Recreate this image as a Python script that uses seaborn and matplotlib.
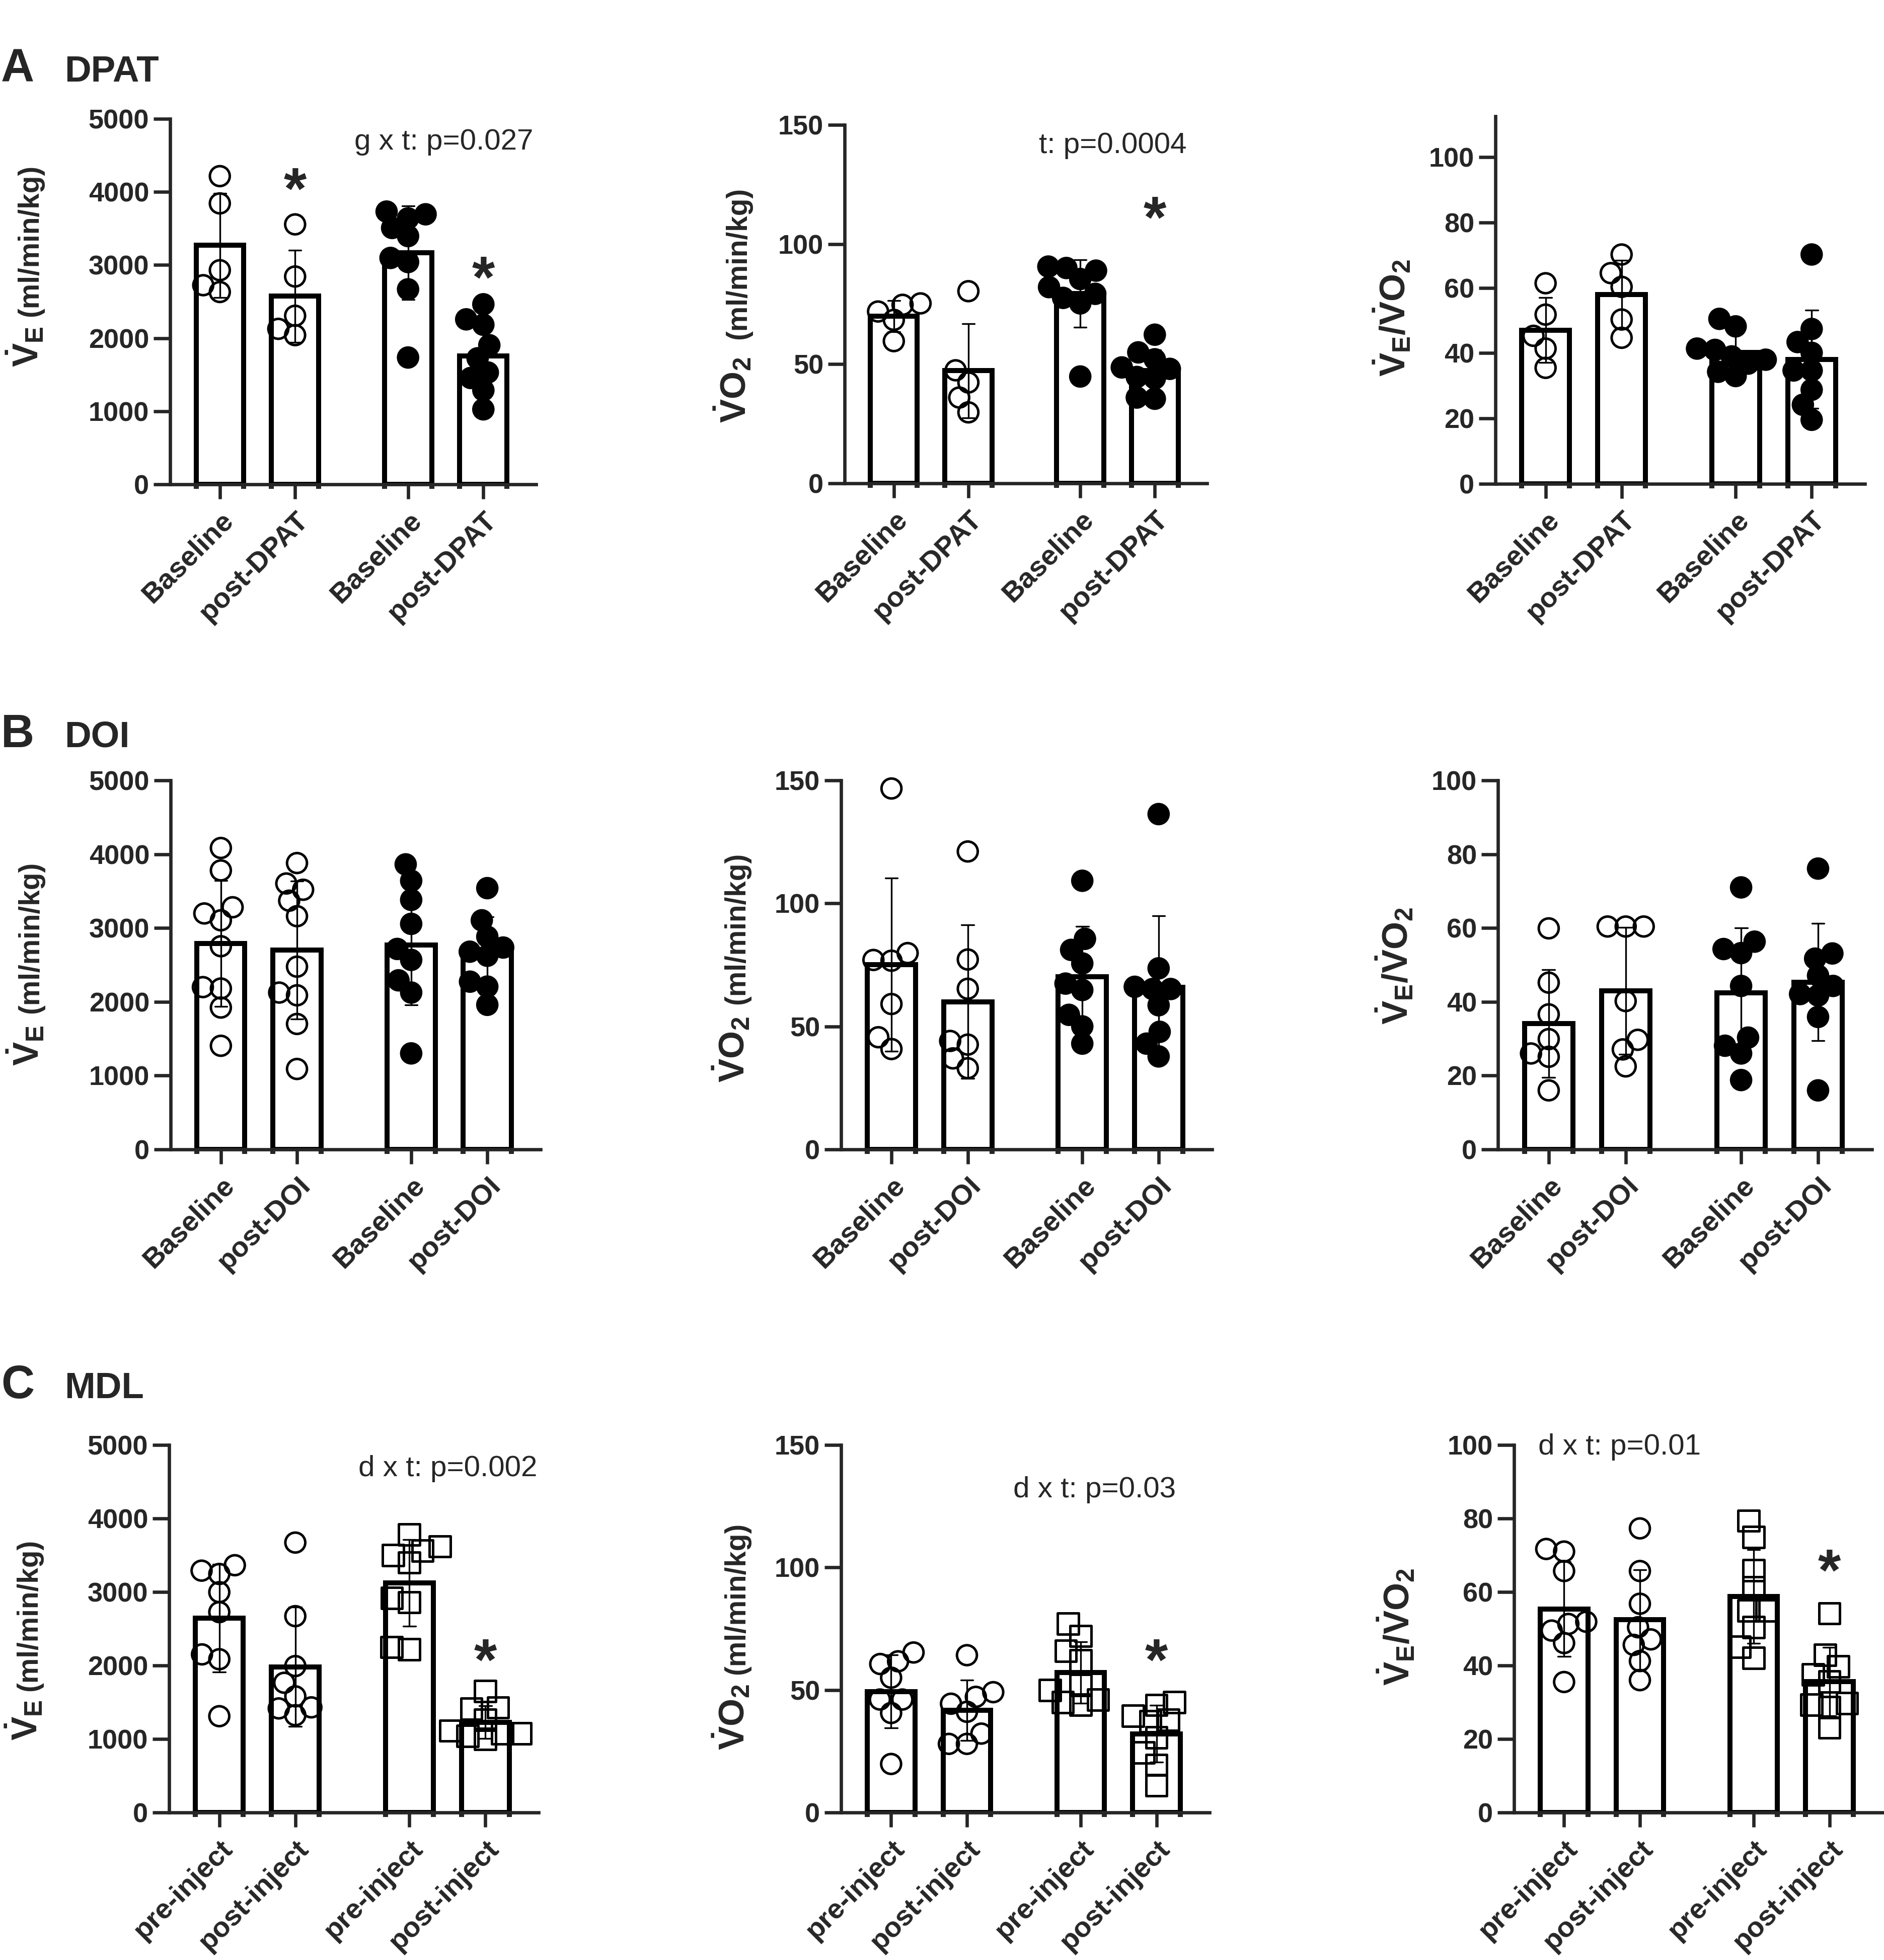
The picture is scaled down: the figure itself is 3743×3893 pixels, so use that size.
"""Bar + scatter panels (mean +/- SD) for ventilation, VO2 and VE/VO2 after DPAT, DOI and MDL."""
import matplotlib
matplotlib.use("Agg")
import matplotlib.pyplot as plt
import pandas as pd
import seaborn as sns


# values, one list per bar
# A: DPAT
a_ve_g1_pre = [4216, 3843, 2929, 2631, 2724]
a_ve_g1_post = [3556, 2843, 2306, 2041, 2127]
a_ve_g2_pre = [3638, 3694, 3731, 3507, 3396, 3097, 3041, 2668, 1735]
a_ve_g2_post = [2463, 2257, 2183, 1903, 1724, 1530, 1455, 1287, 1026]

a_vo2_g1_pre = [74.7, 75.3, 71.9, 68.4, 59.5]
a_vo2_g1_post = [80.4, 47.3, 42.2, 35.9, 29.7]
a_vo2_g2_pre = [90.1, 89.0, 90.7, 85.5, 82.1, 79.3, 77.6, 75.3, 44.7]
a_vo2_g2_post = [62.2, 54.8, 51.9, 48.5, 47.9, 44.5, 43.9, 35.9, 35.4]

a_ratio_g1_pre = [61.4, 51.8, 45.3, 41.4, 35.5]
a_ratio_g1_post = [70.2, 64.5, 60.3, 50.3, 44.7]
a_ratio_g2_pre = [50.5, 48.2, 41.4, 41.0, 39.0, 38.0, 36.8, 34.3, 33.0]
a_ratio_g2_post = [70.2, 47.4, 43.4, 40.1, 34.7, 34.7, 28.8, 24.2, 19.6]

# B: DOI
b_ve_g1_pre = [4084, 3780, 3281, 3197, 3104, 2753, 2199, 2180, 1922, 1404]
b_ve_g1_post = [3880, 3603, 3518, 3370, 3160, 2476, 2125, 2088, 1700, 1090]
b_ve_g2_pre = [3862, 3640, 3381, 3056, 2716, 2568, 2291, 2125, 1301]
b_ve_g2_post = [3540, 3104, 2882, 2735, 2679, 2624, 2273, 2206, 1959]

b_vo2_g1_pre = [146.7, 79.8, 77.0, 76.7, 59.1, 45.6, 40.8]
b_vo2_g1_post = [121.1, 77.2, 65.3, 44.1, 42.6, 37.0, 33.0]
b_vo2_g2_pre = [109.2, 85.6, 81.1, 75.6, 67.4, 64.8, 54.7, 50.0, 43.0]
b_vo2_g2_post = [136.3, 73.6, 66.1, 65.2, 65.2, 58.6, 47.8, 43.0, 37.8]

b_ratio_g1_pre = [59.9, 45.2, 36.6, 29.9, 26.0, 25.1, 16.0]
b_ratio_g1_post = [60.4, 60.4, 60.4, 40.2, 29.7, 27.1, 22.5]
b_ratio_g2_pre = [71.0, 56.3, 54.3, 53.2, 44.3, 30.3, 28.1, 26.0, 18.8]
b_ratio_g2_post = [76.1, 53.1, 51.7, 47.1, 44.3, 42.1, 41.7, 35.9, 16.0]

# C: MDL
c_ve_g1_pre = [3364, 3290, 3245, 2997, 2726, 2151, 2085, 1310]
c_ve_g1_post = [3672, 2671, 1992, 1765, 1580, 1430, 1416, 1323]
c_ve_g2_pre = [3783, 3620, 3560, 3500, 3400, 2920, 2860, 2250, 2220]
c_ve_g2_post = [1650, 1428, 1410, 1261, 1113, 1076, 1076, 1039, 1001]

c_vo2_g1_pre = [65.3, 61.7, 60.6, 55.0, 46.1, 46.1, 40.6, 19.8]
c_vo2_g1_post = [64.2, 49.1, 47.2, 44.4, 41.1, 32.2, 28.0, 28.0]
c_vo2_g2_pre = [77.0, 72.0, 66.0, 62.0, 52.0, 50.0, 46.0, 45.0, 44.0]
c_vo2_g2_post = [45.0, 43.9, 39.4, 37.8, 37.2, 30.6, 24.4, 19.4, 11.1]

c_ratio_g1_pre = [71.7, 71.0, 65.7, 51.9, 51.3, 49.5, 46.1, 35.5]
c_ratio_g1_post = [77.3, 65.7, 56.8, 50.4, 47.1, 45.6, 41.2, 36.0]
c_ratio_g2_pre = [79.4, 74.9, 65.9, 61.2, 54.9, 54.9, 50.4, 45.1, 42.1]
c_ratio_g2_post = [54.2, 42.9, 39.7, 37.5, 35.6, 29.7, 29.3, 28.6, 23.1]

# tick labels
dpat_labels = ["Baseline", "post-DPAT", "Baseline", "post-DPAT"]
doi_labels = ["Baseline", "post-DOI", "Baseline", "post-DOI"]
mdl_labels = ["pre-inject", "post-inject", "pre-inject", "post-inject"]

ve_ticks = [0, 1000, 2000, 3000, 4000, 5000]
vo2_ticks = [0, 50, 100, 150]
ratio_ticks = [0, 20, 40, 60, 80, 100]

W, H = 3743, 3893
SWARM_LAYOUT = 7      # marker size used by the beeswarm, so points overlap like the original
CIRCLE, SQUARE = 9.5, 10

sns.set_style("ticks")
plt.rcParams["font.family"] = ["Liberation Sans", "DejaVu Sans"]
plt.rcParams["font.weight"] = "bold"
plt.rcParams["mathtext.fontset"] = "custom"
plt.rcParams["mathtext.bf"] = "Liberation Sans:bold"
plt.rcParams["mathtext.rm"] = "Liberation Sans"
plt.rcParams["mathtext.it"] = "Liberation Sans:italic"
plt.rcParams["axes.linewidth"] = 1.6

swarms = []  # (collection, final marker size)


def make_frame(g1_pre, g1_post, g2_pre, g2_post):
    parts = []
    for grp, tm, vals in [("g1", "pre", g1_pre), ("g1", "post", g1_post),
                          ("g2", "pre", g2_pre), ("g2", "post", g2_post)]:
        parts.append(pd.DataFrame({"group": grp, "time": tm, "value": vals}))
    return pd.concat(parts, ignore_index=True)


def add_ylabel(ax, kind, f_main, f_units, off):
    """Y label built from a big symbol part and smaller units."""
    common = dict(xycoords="axes fraction", textcoords="offset points",
                  rotation=90, rotation_mode="anchor", ha="center", va="baseline")
    if kind == "ratio":
        ax.annotate(r"$\mathbf{\dot{V}_{E}/\dot{V}O_{2}}$", xy=(0, f_main),
                    xytext=(-off, 0), fontsize=17, **common)
        return
    sym = r"$\mathbf{\dot{V}_{E}}$" if kind == "ve" else r"$\mathbf{\dot{V}O_{2}}$"
    ax.annotate(sym, xy=(0, f_main), xytext=(-off, 0), fontsize=17, **common)
    ax.annotate("(ml/min/kg)", xy=(0, f_units), xytext=(-off, 0), fontsize=13.6,
                fontweight="bold", **common)


def add_points(ax, data, marker, hollow, final_size):
    n0 = len(ax.collections)
    sns.swarmplot(data=data, x="group", y="value", hue="time",
                  order=["g1", "g2"], hue_order=["pre", "post"], dodge=True,
                  palette={"pre": "black", "post": "black"}, marker=marker,
                  size=SWARM_LAYOUT, edgecolor="black", linewidth=1.2,
                  legend=False, ax=ax)
    for c in ax.collections[n0:]:
        if hollow:
            c.set_facecolor("none")
        if marker == "o" and len(c.get_offsets()):
            # let the points near the top of the axis show in full
            c.set_clip_on(False)
        swarms.append((c, final_size))


def draw_panel(ax, df, labels, yticks, ytop, square2=False, stars=(), stat=None):
    sns.barplot(data=df, x="group", y="value", hue="time", order=["g1", "g2"],
                hue_order=["pre", "post"], palette={"pre": "white", "post": "white"},
                errorbar="sd", capsize=0.13, width=0.8, gap=0.37,
                err_kws={"color": "black", "linewidth": 0.8},
                edgecolor="black", linewidth=2.4, saturation=1,
                legend=False, ax=ax)

    # open circles for the first group; second group filled circles,
    # or open squares in the MDL row
    add_points(ax, df[df["group"] == "g1"], "o", True, CIRCLE)
    if square2:
        add_points(ax, df[df["group"] == "g2"], "s", True, SQUARE)
    else:
        add_points(ax, df[df["group"] == "g2"], "o", False, CIRCLE)

    bars = sorted(ax.patches, key=lambda p: p.get_x())
    centers = [p.get_x() + p.get_width() / 2 for p in bars]
    step = centers[1] - centers[0]
    ax.set_xlim(centers[0] - 0.66 * step, centers[-1] + 0.70 * step)
    ax.set_xticks(centers)
    ax.set_xticklabels(labels, rotation=45, ha="right", rotation_mode="anchor",
                       fontsize=13.5, fontweight="bold")
    edges = [p.get_x() for p in bars] + [p.get_x() + p.get_width() for p in bars]
    ax.set_xticks(edges, minor=True)
    ax.tick_params(axis="x", which="major", length=7, width=1.6, pad=4)
    ax.tick_params(axis="x", which="minor", length=2.2, width=2.4)

    ax.set_ylim(0, ytop)
    ax.set_yticks(yticks)
    ax.tick_params(axis="y", length=8, width=1.6, pad=2, labelsize=13)
    for t in ax.get_yticklabels():
        t.set_fontweight("bold")
    ax.set_xlabel("")
    ax.set_ylabel("")
    ax.spines[["top", "right"]].set_visible(False)

    for idx, ys in stars:
        ax.annotate("*", xy=(centers[idx], ys), xytext=(0, -16),
                    textcoords="offset points", ha="center", va="baseline",
                    fontsize=28, fontweight="bold")
    if stat is not None:
        txt, fx, fy, ha = stat
        ax.text(fx, fy, txt, transform=ax.transAxes, ha=ha, va="center",
                fontsize=14, fontweight="normal")


def rect(left, right, top, bottom):
    return [left / W, 1 - bottom / H, (right - left) / W, (bottom - top) / H]


fig = plt.figure(figsize=(W / 300, H / 300), dpi=300)

# row A: DPAT
ax = fig.add_axes(rect(338, 1065, 236, 962))
draw_panel(ax, make_frame(a_ve_g1_pre, a_ve_g1_post, a_ve_g2_pre, a_ve_g2_post),
           dpat_labels, ve_ticks, 5000, stars=[(1, 4229), (3, 3020)],
           stat=("g x t: p=0.027", 0.992, 0.937, "right"))
add_ylabel(ax, "ve", 0.377, 0.667, 63)

ax = fig.add_axes(rect(1678, 2398, 248, 960))
draw_panel(ax, make_frame(a_vo2_g1_pre, a_vo2_g1_post, a_vo2_g2_pre, a_vo2_g2_post),
           dpat_labels, vo2_ticks, 150, stars=[(3, 116.9)],
           stat=("t: p=0.0004", 0.944, 0.943, "right"))
add_ylabel(ax, "vo2", 0.26, 0.614, 47)

ax = fig.add_axes(rect(2971, 3705, 231, 961))
draw_panel(ax, make_frame(a_ratio_g1_pre, a_ratio_g1_post, a_ratio_g2_pre, a_ratio_g2_post),
           dpat_labels, ratio_ticks, 112.5)
add_ylabel(ax, "ratio", 0.452, None, 43)

# row B: DOI
ax = fig.add_axes(rect(339, 1074, 1550, 2283))
draw_panel(ax, make_frame(b_ve_g1_pre, b_ve_g1_post, b_ve_g2_pre, b_ve_g2_post),
           doi_labels, ve_ticks, 5000)
add_ylabel(ax, "ve", 0.282, 0.574, 63)

ax = fig.add_axes(rect(1671, 2408, 1550, 2283))
draw_panel(ax, make_frame(b_vo2_g1_pre, b_vo2_g1_post, b_vo2_g2_pre, b_vo2_g2_post),
           doi_labels, vo2_ticks, 150)
add_ylabel(ax, "vo2", 0.271, 0.599, 46)

ax = fig.add_axes(rect(2976, 3719, 1550, 2283))
draw_panel(ax, make_frame(b_ratio_g1_pre, b_ratio_g1_post, b_ratio_g2_pre, b_ratio_g2_post),
           doi_labels, ratio_ticks, 100)
add_ylabel(ax, "ratio", 0.497, None, 43)

# row C: MDL
ax = fig.add_axes(rect(336, 1070, 2870, 3600))
draw_panel(ax, make_frame(c_ve_g1_pre, c_ve_g1_post, c_ve_g2_pre, c_ve_g2_post),
           mdl_labels, ve_ticks, 5000, square2=True, stars=[(3, 2263)],
           stat=("d x t: p=0.002", 0.996, 0.936, "right"))
add_ylabel(ax, "ve", 0.252, 0.537, 63)

ax = fig.add_axes(rect(1671, 2403, 2870, 3600))
draw_panel(ax, make_frame(c_vo2_g1_pre, c_vo2_g1_post, c_vo2_g2_pre, c_vo2_g2_post),
           mdl_labels, vo2_ticks, 150, square2=True, stars=[(3, 67.8)],
           stat=("d x t: p=0.03", 0.909, 0.878, "right"))
add_ylabel(ax, "vo2", 0.26, 0.582, 46)

ax = fig.add_axes(rect(3008, 3740, 2870, 3600))
draw_panel(ax, make_frame(c_ratio_g1_pre, c_ratio_g1_post, c_ratio_g2_pre, c_ratio_g2_post),
           mdl_labels, ratio_ticks, 100, square2=True, stars=[(3, 69.6)],
           stat=("d x t: p=0.01", 0.065, 0.994, "left"))
add_ylabel(ax, "ratio", 0.505, None, 50)

# panel headers
for letter, name, base in [("A", "DPAT", 162), ("B", "DOI", 1484), ("C", "MDL", 2777)]:
    fig.text(2 / W, 1 - base / H, letter, fontsize=22, fontweight="bold", va="baseline")
    fig.text(128 / W, 1 - base / H, name, fontsize=17.5, fontweight="bold", va="baseline")

# run the beeswarm once with the small layout size, then keep those positions
# and draw the markers at their real size (points overlap as in the original)
fig.canvas.draw()
for coll, size in swarms:
    coll.__dict__.pop("draw", None)
    coll.set_sizes([size ** 2])

fig.savefig("out.png", dpi=300)
